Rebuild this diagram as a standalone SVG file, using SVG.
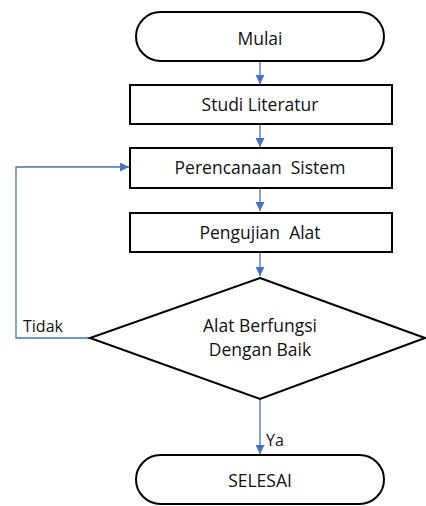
<svg xmlns="http://www.w3.org/2000/svg" width="426" height="506" viewBox="0 0 426 506">
<style>
.s{fill:#fff;stroke:#000;stroke-width:2}
.t{font-family:"Open Sans","Liberation Sans",sans-serif;font-size:17.5px;fill:#111;text-anchor:middle;white-space:pre}
.l{font-family:"Open Sans","Liberation Sans",sans-serif;font-size:16px;fill:#111}
.c{fill:none;stroke:#4472C4;stroke-width:1.3}
</style>
<defs>
<marker id="a" viewBox="0 0 10 10" refX="10" refY="5" markerWidth="9" markerHeight="9" markerUnits="userSpaceOnUse" orient="auto">
<path d="M0,0 L10,5 L0,10 z" fill="#4472C4"/>
</marker>
</defs>
<rect width="426" height="506" fill="#fff"/>
<g id="connectors">
<line class="c" x1="260" y1="62" x2="260" y2="84" marker-end="url(#a)"/>
<line class="c" x1="260" y1="125" x2="260" y2="147" marker-end="url(#a)"/>
<line class="c" x1="260" y1="189" x2="260" y2="211" marker-end="url(#a)"/>
<line class="c" x1="260" y1="253" x2="260" y2="276" marker-end="url(#a)"/>
<line class="c" x1="260" y1="399" x2="260" y2="454" marker-end="url(#a)"/>
<polyline class="c" points="90,338 16,338 16,167 129,167" marker-end="url(#a)"/>
<text class="l" x="23" y="332">Tidak</text>
<text class="l" x="266" y="446">Ya</text>
</g>
<g id="mulai">
<rect class="s" x="136" y="12" width="248" height="49" rx="24.5"/>
<text class="t" x="260" y="45">Mulai</text>
</g>
<g id="studi">
<rect class="s" x="130" y="85" width="262" height="39"/>
<text class="t" x="260" y="111">Studi Literatur</text>
</g>
<g id="perencanaan">
<rect class="s" x="130" y="148" width="262" height="40"/>
<text class="t" x="260" y="174">Perencanaan  Sistem</text>
</g>
<g id="pengujian">
<rect class="s" x="130" y="213" width="262" height="39"/>
<text class="t" x="260" y="239">Pengujian  Alat</text>
</g>
<g id="keputusan">
<polygon class="s" points="260,278 425,338 260,399 90,338"/>
<text class="t" x="260" y="332">Alat Berfungsi</text>
<text class="t" x="260" y="356">Dengan Baik</text>
</g>
<g id="selesai">
<rect class="s" x="136" y="455" width="248" height="49" rx="24.5"/>
<text class="t" x="260" y="487">SELESAI</text>
</g>
</svg>
